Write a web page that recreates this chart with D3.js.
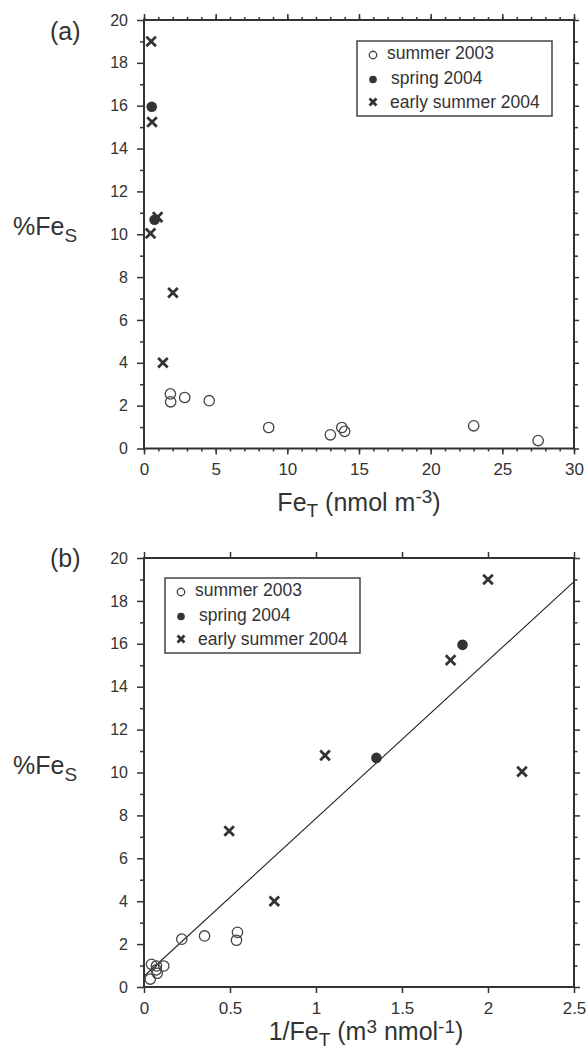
<!DOCTYPE html>
<html>
<head>
<meta charset="utf-8">
<script src="https://cdn.jsdelivr.net/npm/d3@7"></script>
<style>
  html, body { margin: 0; padding: 0; background: #fff; }
  svg { display: block; font-family: "Liberation Sans", Arial, Helvetica, sans-serif; }
</style>
</head>
<body>
<svg id="fig" width="587" height="1057"></svg>
<script>
// Series: total aerosol iron (nmol m^-3) and soluble fraction (%) per sampling season
const seasons = ["summer 2003", "spring 2004", "early summer 2004"];
const summer2003FeT = [1.84, 1.86, 2.84, 4.55, 8.7, 13.0, 13.8, 14.0, 23.0, 27.5];
const summer2003FeS = [2.55, 2.18, 2.38, 2.23, 0.98, 0.64, 0.98, 0.80, 1.06, 0.37];
const spring2004FeT = [0.54, 0.74];
const spring2004FeS = [15.95, 10.68];
const earlySummer2004FeT = [0.50, 0.561, 0.95, 0.455, 2.02, 1.32];
const earlySummer2004FeS = [19.0, 15.24, 10.8, 10.04, 7.27, 4.0];

// Linear fit of %FeS against 1/FeT
const fitSlope = 7.36;
const fitIntercept = 0.5;

// Tick values
const xTicksA = [0, 5, 10, 15, 20, 25, 30];
const xMinorA = d3.range(0, 31, 1);
const xTicksB = [0, 0.5, 1, 1.5, 2, 2.5];
const yTicks = [0, 2, 4, 6, 8, 10, 12, 14, 16, 18, 20];
const yMinor = d3.range(1, 20, 2);

const series = [
  { name: seasons[0], kind: "open",   fet: summer2003FeT,      fes: summer2003FeS },
  { name: seasons[1], kind: "filled", fet: spring2004FeT,      fes: spring2004FeS },
  { name: seasons[2], kind: "cross",  fet: earlySummer2004FeT, fes: earlySummer2004FeS }
];

const INK = "#333";
const svg = d3.select("#fig");

function drawMarker(g, kind, cx, cy, s) {
  if (kind === "open") {
    g.append("circle").attr("cx", cx).attr("cy", cy).attr("r", 5.2 * s)
      .attr("fill", "none").attr("stroke", "#444").attr("stroke-width", 1.3);
  } else if (kind === "filled") {
    g.append("circle").attr("cx", cx).attr("cy", cy).attr("r", 5.3 * s)
      .attr("fill", INK);
  } else {
    const h = 4.8 * s;
    g.append("path")
      .attr("d", `M${cx - h},${cy - h}L${cx + h},${cy + h}M${cx - h},${cy + h}L${cx + h},${cy - h}`)
      .attr("stroke", INK).attr("stroke-width", 2.8).attr("fill", "none");
  }
}

function styleAxis(sel, fontSize) {
  sel.select(".domain").remove();
  sel.selectAll(".tick line").attr("stroke", INK).attr("stroke-width", 1.5);
  sel.selectAll(".tick text").attr("fill", INK).style("font-size", fontSize + "px")
    .style("font-family", "'Liberation Sans', Arial, Helvetica, sans-serif");
}

function drawPanel(cfg) {
  const { left, right, top, bottom, x } = cfg;
  const y = d3.scaleLinear().domain([0, 20]).range([bottom, top]);
  const g = svg.append("g");

  // left axis with labels
  const la = g.append("g").attr("transform", `translate(${left},0)`)
    .call(d3.axisLeft(y).tickValues(yTicks).tickSize(7).tickPadding(9).tickFormat(d3.format("d")));
  styleAxis(la, 16);
  const lm = g.append("g").attr("transform", `translate(${left},0)`)
    .call(d3.axisLeft(y).tickValues(yMinor).tickSize(4).tickFormat(""));
  styleAxis(lm, 0);

  // right axis
  const ra = g.append("g").attr("transform", `translate(${right},0)`)
    .call(d3.axisRight(y).tickValues(yTicks).tickSize(cfg.rightMajor).tickFormat(""));
  styleAxis(ra, 0);
  const rm = g.append("g").attr("transform", `translate(${right},0)`)
    .call(d3.axisRight(y).tickValues(yMinor).tickSize(cfg.rightMinor).tickFormat(""));
  styleAxis(rm, 0);

  // bottom axis with labels
  const ba = g.append("g").attr("transform", `translate(0,${bottom})`)
    .call(d3.axisBottom(x).tickValues(cfg.xTicks).tickSize(6).tickPadding(cfg.xPad)
      .tickFormat(d => String(d)));
  styleAxis(ba, 17);
  if (cfg.xMinor) {
    const bm = g.append("g").attr("transform", `translate(0,${bottom})`)
      .call(d3.axisBottom(x).tickValues(cfg.xMinor).tickSize(3).tickFormat(""));
    styleAxis(bm, 0);
  }

  // top axis
  const ta = g.append("g").attr("transform", `translate(0,${top})`)
    .call(d3.axisTop(x).tickValues(cfg.xTicks).tickSize(6).tickFormat(""));
  styleAxis(ta, 0);
  if (cfg.xMinor) {
    const tm = g.append("g").attr("transform", `translate(0,${top})`)
      .call(d3.axisTop(x).tickValues(cfg.xMinor).tickSize(3).tickFormat(""));
    styleAxis(tm, 0);
  }

  // frame
  g.append("rect").attr("x", left).attr("y", top)
    .attr("width", right - left).attr("height", bottom - top)
    .attr("fill", "none").attr("stroke", INK).attr("stroke-width", 2);

  // optional fit line
  if (cfg.fit) {
    const [x0, x1] = x.domain();
    g.append("line")
      .attr("x1", x(x0)).attr("y1", y(fitIntercept + fitSlope * x0))
      .attr("x2", x(x1)).attr("y2", y(fitIntercept + fitSlope * x1))
      .attr("stroke", "#222").attr("stroke-width", 1.1);
  }

  // points
  const pg = g.append("g");
  series.forEach(s => {
    s.fet.forEach((fe, i) => {
      drawMarker(pg, s.kind, x(cfg.xValue(fe)), y(s.fes[i]), 1);
    });
  });

  // legend
  const lg = g.append("g").attr("transform", `translate(${cfg.legend[0]},${cfg.legend[1]})`);
  lg.append("rect").attr("x", 0).attr("y", 0).attr("width", 195).attr("height", 75)
    .attr("fill", "#fff").attr("stroke", "#444").attr("stroke-width", 1.5);
  const rowsY = [18, 42.5, 66.5];
  const markY = [14, 38.5, 61];
  const textX = [30, 34, 33];
  series.forEach((s, i) => {
    drawMarker(lg, s.kind, 16, markY[i], 0.72);
    lg.append("text").attr("x", textX[i]).attr("y", rowsY[i])
      .attr("fill", INK).style("font-size", "17.5px").text(s.name);
  });

  // y-axis title %Fe_S
  const yt = g.append("text").attr("x", 13).attr("y", (top + bottom) / 2 + 1)
    .attr("fill", INK).style("font-size", "25px");
  yt.append("tspan").text("%Fe");
  yt.append("tspan").attr("dy", 7).style("font-size", "19px").text("S");

  // panel letter
  g.append("text").attr("x", 50).attr("y", cfg.letterY).attr("fill", INK)
    .style("font-size", "25px").text(cfg.letter);

  // x-axis title
  const xt = g.append("text").attr("x", cfg.xTitleX).attr("y", cfg.xTitleY)
    .attr("text-anchor", "middle").attr("fill", INK).style("font-size", "25px");
  cfg.xTitle.forEach(p => {
    const t = xt.append("tspan").text(p.t);
    if (p.dy) t.attr("dy", p.dy);
    if (p.fs) t.style("font-size", p.fs + "px");
  });
}

// (a) %FeS versus FeT
drawPanel({
  left: 144, right: 574, top: 20, bottom: 448.5,
  x: d3.scaleLinear().domain([0, 30]).range([144, 574]),
  xValue: fe => fe,
  xTicks: xTicksA, xMinor: xMinorA, xPad: 8,
  rightMajor: 5, rightMinor: 4,
  legend: [357, 41],
  letter: "(a)", letterY: 40,
  xTitleX: 359, xTitleY: 511,
  xTitle: [
    { t: "Fe" }, { t: "T", dy: 6, fs: 19 }, { t: " (nmol m", dy: -6 },
    { t: "-3", dy: -8, fs: 19 }, { t: ")", dy: 8 }
  ],
  fit: false
});

// (b) %FeS versus 1/FeT with linear fit
drawPanel({
  left: 144, right: 574, top: 558, bottom: 987,
  x: d3.scaleLinear().domain([0, 2.5]).range([144, 574]),
  xValue: fe => 1 / fe,
  xTicks: xTicksB, xMinor: null, xPad: 9,
  rightMajor: 6, rightMinor: 3.5,
  legend: [165, 578],
  letter: "(b)", letterY: 567,
  xTitleX: 366, xTitleY: 1040,
  xTitle: [
    { t: "1/Fe" }, { t: "T", dy: 6, fs: 19 }, { t: " (m", dy: -6 },
    { t: "3", dy: -7, fs: 19 }, { t: " nmol", dy: 7 },
    { t: "-1", dy: -7, fs: 19 }, { t: ")", dy: 7 }
  ],
  fit: true
});
</script>
</body>
</html>
